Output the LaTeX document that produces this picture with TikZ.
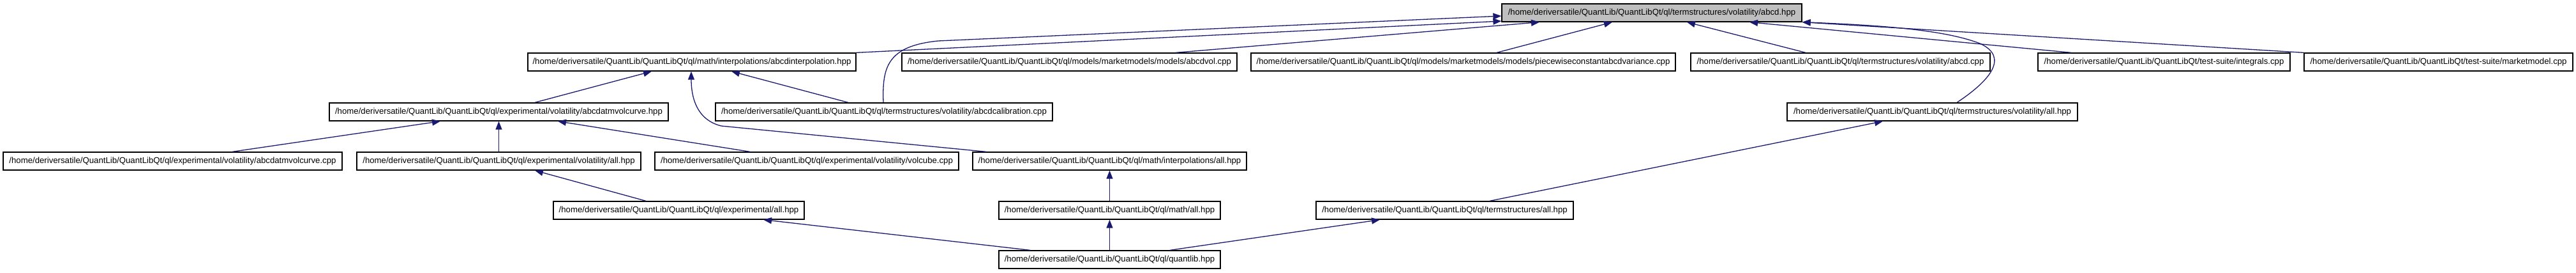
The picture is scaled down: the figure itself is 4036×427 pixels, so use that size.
\documentclass[tikz,border=0pt]{standalone}
\usepackage{fontspec}
\setmainfont{Liberation Sans}
\usetikzlibrary{arrows.meta}
\definecolor{edgecol}{HTML}{191970}
\definecolor{rootfill}{HTML}{BFBFBF}
\tikzset{
  filebox/.style={draw=black, line width=1.3pt, fill=white, inner sep=0pt,
    minimum height=28pt, font=\fontsize{13.2}{15}\selectfont, anchor=center},
  rootbox/.style={filebox, fill=rootfill},
  dep/.style={draw=edgecol, line width=1.3pt, -{Triangle[length=13pt,width=10pt]}},
}
\begin{document}
\begin{tikzpicture}[x=1pt,y=-1pt]
\useasboundingbox (0,0) rectangle (4036,427);
% row 1
\node[rootbox, minimum width=470pt] (root) at (2588,20) {/home/deriversatile/QuantLib/QuantLibQt/ql/termstructures/volatility/abcd.hpp};
% row 2
\node[filebox, minimum width=514pt] (A) at (1084,97) {/home/deriversatile/QuantLib/QuantLibQt/ql/math/interpolations/abcdinterpolation.hpp};
\node[filebox, minimum width=525pt] (B) at (1675.5,97) {/home/deriversatile/QuantLib/QuantLibQt/ql/models/marketmodels/models/abcdvol.cpp};
\node[filebox, minimum width=665pt] (C) at (2292.5,97) {/home/deriversatile/QuantLib/QuantLibQt/ql/models/marketmodels/models/piecewiseconstantabcdvariance.cpp};
\node[filebox, minimum width=469pt] (D) at (2883.5,97) {/home/deriversatile/QuantLib/QuantLibQt/ql/termstructures/volatility/abcd.cpp};
\node[filebox, minimum width=395pt] (E) at (3390.5,97) {/home/deriversatile/QuantLib/QuantLibQt/test-suite/integrals.cpp};
\node[filebox, minimum width=421pt] (F) at (3820.5,97) {/home/deriversatile/QuantLib/QuantLibQt/test-suite/marketmodel.cpp};
% row 3
\node[filebox, minimum width=531pt] (G) at (781.5,175) {/home/deriversatile/QuantLib/QuantLibQt/ql/experimental/volatility/abcdatmvolcurve.hpp};
\node[filebox, minimum width=528pt] (H) at (1385,175) {/home/deriversatile/QuantLib/QuantLibQt/ql/termstructures/volatility/abcdcalibration.cpp};
\node[filebox, minimum width=455pt] (I) at (3027.5,175) {/home/deriversatile/QuantLib/QuantLibQt/ql/termstructures/volatility/all.hpp};
% row 4
\node[filebox, minimum width=531pt] (J) at (270.5,252) {/home/deriversatile/QuantLib/QuantLibQt/ql/experimental/volatility/abcdatmvolcurve.cpp};
\node[filebox, minimum width=445pt] (K) at (781.5,252) {/home/deriversatile/QuantLib/QuantLibQt/ql/experimental/volatility/all.hpp};
\node[filebox, minimum width=476pt] (L) at (1264,252) {/home/deriversatile/QuantLib/QuantLibQt/ql/experimental/volatility/volcube.cpp};
\node[filebox, minimum width=429pt] (M) at (1738.5,252) {/home/deriversatile/QuantLib/QuantLibQt/ql/math/interpolations/all.hpp};
% row 5
\node[filebox, minimum width=393pt] (N) at (1063.5,329) {/home/deriversatile/QuantLib/QuantLibQt/ql/experimental/all.hpp};
\node[filebox, minimum width=347pt] (O) at (1738.5,329) {/home/deriversatile/QuantLib/QuantLibQt/ql/math/all.hpp};
\node[filebox, minimum width=403pt] (P) at (2263.5,329) {/home/deriversatile/QuantLib/QuantLibQt/ql/termstructures/all.hpp};
% row 6
\node[filebox, minimum width=347pt] (Q) at (1738.5,406) {/home/deriversatile/QuantLib/QuantLibQt/ql/quantlib.hpp};

% edges to root
\draw[dep] (A.north east) -- (root.west |- 0,33);
\draw[dep] (B.north -| 1842,0) -- (root.south -| 2412,0);
\draw[dep] (C.north -| 2345,0) -- (root.south -| 2526,0);
\draw[dep] (D.north -| 2829,0) -- (root.south -| 2643,0);
\draw[dep] (E.north -| 3245,0) -- (root.south -| 2741,0);
\draw[dep] (F.north west) -- (root.south east);
\draw[dep] (H.north -| 1384,0) .. controls (1382,105) and (1390,72) .. (1470,64) -- (root.west |- 0,25);
\draw[dep] (I.north -| 3066,0) .. controls (3115,128) and (3150,90) .. (3102,68) .. controls (3050,48) and (2960,40) .. (root.south east);
% edges to A
\draw[dep] (G.north -| 838,0) -- (A.south -| 1021,0);
\draw[dep] (H.north -| 1329,0) -- (A.south -| 1146,0);
\draw[dep] (M.north -| 1545,0) -- (1130,197) .. controls (1090,187) and (1083,150) .. (A.south -| 1083,0);
% edges to G
\draw[dep] (J.north -| 364,0) -- (G.south -| 690,0);
\draw[dep] (K.north) -- (G.south);
\draw[dep] (L.north -| 1175,0) -- (G.south -| 874,0);
% lower
\draw[dep] (N.north -| 1012,0) -- (K.south -| 838,0);
\draw[dep] (O.north) -- (M.south);
\draw[dep] (P.north -| 2334,0) -- (I.south -| 2950,0);
\draw[dep] (Q.north -| 1614,0) -- (N.south -| 1196,0);
\draw[dep] (Q.north) -- (O.south);
\draw[dep] (Q.north -| 1833,0) -- (P.south -| 2162,0);
\end{tikzpicture}
\end{document}
